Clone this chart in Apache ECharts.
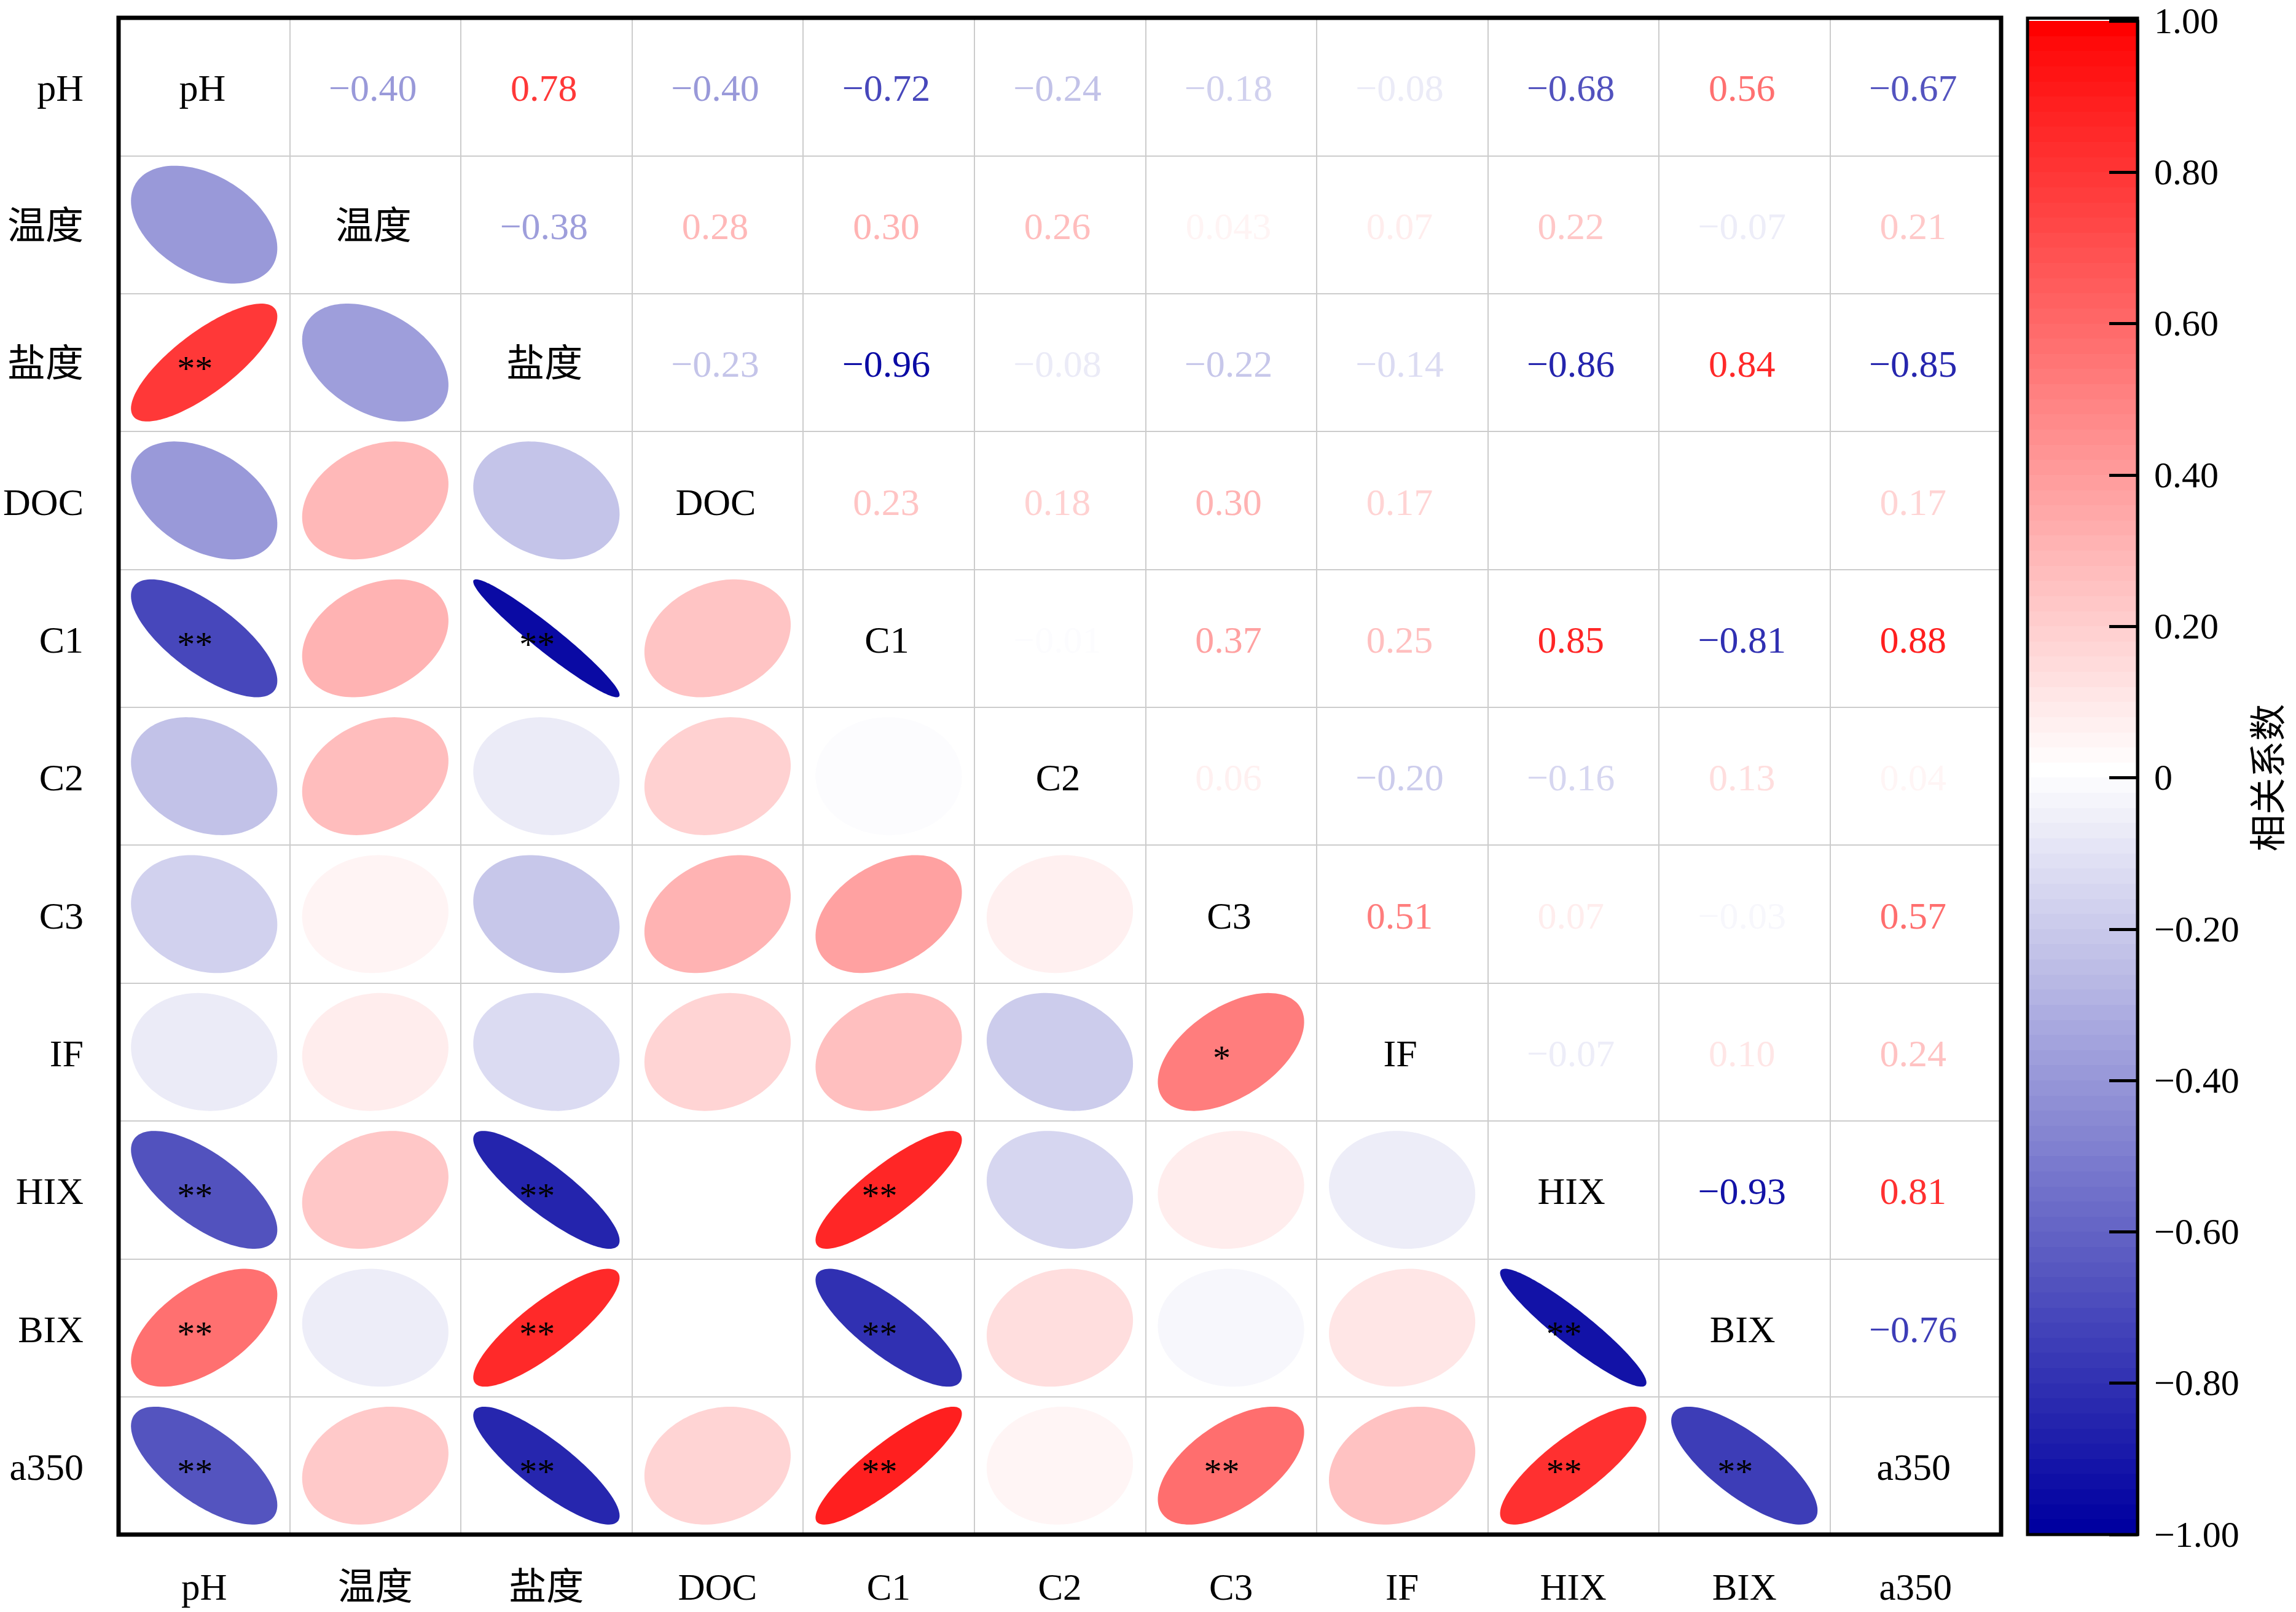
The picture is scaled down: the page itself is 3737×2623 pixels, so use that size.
<!DOCTYPE html>
<html>
<head>
<meta charset="utf-8">
<script src="https://cdn.jsdelivr.net/npm/echarts@6/dist/echarts.min.js"></script>
<style>
  html, body { margin: 0; padding: 0; background: #fff; }
  #corrplot { width: 3737px; height: 2623px; }
</style>
</head>
<body>
<div id="corrplot"></div>
<script>
"use strict";

// variables, top to bottom / left to right
var names = ['pH', '温度', '盐度', 'DOC', 'C1', 'C2', 'C3', 'IF', 'HIX', 'BIX', 'a350'];

// correlation matrix (symmetric, null = not shown)
var corr = [
    [1, -0.40, 0.78, -0.40, -0.72, -0.24, -0.18, -0.08, -0.68, 0.56, -0.67],
    [-0.40, 1, -0.38, 0.28, 0.30, 0.26, 0.043, 0.07, 0.22, -0.07, 0.21],
    [0.78, -0.38, 1, -0.23, -0.96, -0.08, -0.22, -0.14, -0.86, 0.84, -0.85],
    [-0.40, 0.28, -0.23, 1, 0.23, 0.18, 0.30, 0.17, null, null, 0.17],
    [-0.72, 0.30, -0.96, 0.23, 1, -0.01, 0.37, 0.25, 0.85, -0.81, 0.88],
    [-0.24, 0.26, -0.08, 0.18, -0.01, 1, 0.06, -0.20, -0.16, 0.13, 0.04],
    [-0.18, 0.043, -0.22, 0.30, 0.37, 0.06, 1, 0.51, 0.07, -0.03, 0.57],
    [-0.08, 0.07, -0.14, 0.17, 0.25, -0.20, 0.51, 1, -0.07, 0.10, 0.24],
    [-0.68, 0.22, -0.86, null, 0.85, -0.16, 0.07, -0.07, 1, -0.93, 0.81],
    [0.56, -0.07, 0.84, null, -0.81, 0.13, -0.03, 0.10, -0.93, 1, -0.76],
    [-0.67, 0.21, -0.85, 0.17, 0.88, 0.04, 0.57, 0.24, 0.81, -0.76, 1]
];

// significance marks in the lower triangle: [row, col, mark]
var signif = [
    [2, 0, '**'], [4, 0, '**'], [4, 2, '**'], [7, 6, '*'],
    [8, 0, '**'], [8, 2, '**'], [8, 4, '**'],
    [9, 0, '**'], [9, 2, '**'], [9, 4, '**'], [9, 8, '**'],
    [10, 0, '**'], [10, 2, '**'], [10, 4, '**'], [10, 6, '**'], [10, 8, '**'], [10, 9, '**']
];

// colour bar
var barMin = -1;
var barMax = 1;
var barStep = 0.2;
var barBands = 100;
var barTitle = '相关系数';

var FONT = '"Liberation Serif", "Noto Sans CJK SC", serif';

// plot area (frame) in pixels
var GRID = { left: 193, top: 29, width: 3064, height: 2468 };

function corrColor(r) {
    var t = Math.min(1, Math.abs(r)), c;
    c = Math.round(255 * (1 - t));
    if (r >= 0) {
        return 'rgb(255,' + c + ',' + c + ')';
    }
    return 'rgb(' + c + ',' + c + ',' + Math.round(255 - 95 * t) + ')';
}

function fmt(v) {
    var a = Math.abs(v);
    var s = (Math.round(a * 1000) % 10 !== 0) ? String(a) : a.toFixed(2);
    return (v < 0 ? '\u2212' : '') + s;
}

function markOf(i, j) {
    for (var k = 0; k < signif.length; k++) {
        if (signif[k][0] === i && signif[k][1] === j) return signif[k][2];
    }
    return '';
}

var lowerCells = [], upperCells = [], diagCells = [];
for (var i = 0; i < names.length; i++) {
    for (var j = 0; j < names.length; j++) {
        var v = corr[i][j];
        if (i === j) {
            diagCells.push([j, i]);
        } else if (v === null) {
            continue;
        } else if (i > j) {
            lowerCells.push([j, i, v]);
        } else {
            upperCells.push([j, i, v]);
        }
    }
}

// stepped colour stops for the bar, top (barMax) to bottom (barMin)
var barStops = [];
for (var b = 0; b < barBands; b++) {
    var lo = barMax - (b + 1) * (barMax - barMin) / barBands;
    var col = corrColor(Math.abs(lo) < 1e-9 ? 0 : lo);
    barStops.push({ offset: b / barBands, color: col });
    barStops.push({ offset: (b + 1) / barBands, color: col });
}
barStops[0].color = corrColor(barMax);
barStops[1].color = corrColor(barMax);

function getChart(id) {
    var dom = document.getElementById(id);
    return echarts.init(dom);
}

var chart = getChart('corrplot');

var option = {
    animation: false,
    backgroundColor: '#ffffff',
    textStyle: { fontFamily: FONT },
    grid: [{
        left: GRID.left, top: GRID.top, width: GRID.width, height: GRID.height,
        show: false
    }, {
        left: 3300, top: 29.5, width: 179, height: 2467.5,
        show: false
    }],
    graphic: [{
        type: 'rect',
        z: 100,
        shape: { x: GRID.left, y: GRID.top, width: GRID.width, height: GRID.height },
        style: { fill: 'none', stroke: '#000', lineWidth: 7 }
    }, {
        type: 'rect',
        z: 100,
        shape: { x: 3300, y: 29.5, width: 179, height: 2467.5 },
        style: { fill: 'none', stroke: '#000', lineWidth: 5 }
    }],
    xAxis: [{
        gridIndex: 0,
        type: 'category',
        data: names,
        position: 'bottom',
        axisLine: { show: false },
        axisTick: { show: false },
        axisLabel: { interval: 0, margin: 59, color: '#000', fontSize: 61, fontFamily: FONT },
        splitLine: { show: true, interval: 0, lineStyle: { color: '#cccccc', width: 2 } }
    }, {
        gridIndex: 1,
        type: 'value',
        min: 0, max: 1,
        show: false
    }],
    yAxis: [{
        gridIndex: 0,
        type: 'category',
        data: names,
        inverse: true,
        axisLine: { show: false },
        axisTick: { show: false },
        axisLabel: {
            interval: 0, margin: 57,
            formatter: function (val) { return '{n|' + val + '}'; },
            rich: {
                n: {
                    color: '#000', fontSize: 62, fontFamily: FONT,
                    lineHeight: 62, padding: [14, 0, 0, 0]
                }
            }
        },
        splitLine: { show: true, interval: 0, lineStyle: { color: '#cccccc', width: 2 } }
    }, {
        gridIndex: 1,
        type: 'value',
        min: barMin, max: barMax, interval: barStep,
        position: 'right',
        z: 10,
        name: barTitle,
        nameLocation: 'middle',
        nameGap: 188,
        nameTextStyle: { fontSize: 60, color: '#000', fontFamily: FONT },
        axisLine: { show: true, onZero: false, lineStyle: { color: '#000', width: 5 } },
        axisTick: { show: true, inside: true, length: 46, lineStyle: { color: '#000', width: 5 } },
        splitLine: { show: false },
        axisLabel: {
            margin: 27,
            formatter: function (val) {
                if (Math.abs(val) < 1e-9) return '{t|0}';
                return '{t|' + fmt(Math.round(val * 100) / 100) + '}';
            },
            rich: {
                t: {
                    color: '#000', fontSize: 60, fontFamily: FONT,
                    lineHeight: 60, padding: [8, 0, 0, 0]
                }
            }
        }
    }],
    series: [{
        name: 'ellipse',
        type: 'custom',
        xAxisIndex: 0, yAxisIndex: 0,
        data: lowerCells,
        renderItem: function (params, api) {
            var c = api.coord([api.value(0), api.value(1)]);
            var s = api.size([1, 1]);
            var r = api.value(2);
            var hw = s[0] * 0.855 / 2, hh = s[1] * 0.855 / 2;
            var d = Math.acos(Math.max(-1, Math.min(1, r)));
            var pts = [];
            for (var k = 0; k < 144; k++) {
                var t = k / 144 * 2 * Math.PI;
                pts.push([c[0] + hw * Math.cos(t + d / 2), c[1] - hh * Math.cos(t - d / 2)]);
            }
            var children = [{
                type: 'polygon',
                shape: { points: pts },
                style: { fill: corrColor(r) }
            }];
            var cell = lowerCells[params.dataIndex];
            var mark = markOf(cell[1], cell[0]);
            if (mark) {
                children.push({
                    type: 'text',
                    x: c[0] - 15, y: c[1] + 14,
                    style: {
                        text: mark, fill: '#000', fontSize: 58, fontFamily: FONT,
                        align: 'center', verticalAlign: 'middle'
                    }
                });
            }
            return { type: 'group', children: children };
        }
    }, {
        name: 'value',
        type: 'custom',
        xAxisIndex: 0, yAxisIndex: 0,
        data: upperCells,
        renderItem: function (params, api) {
            var c = api.coord([api.value(0), api.value(1)]);
            var r = api.value(2);
            return {
                type: 'text',
                x: c[0] - 4, y: c[1] + 7,
                style: {
                    text: fmt(r), fill: corrColor(r), fontSize: 62, fontFamily: FONT,
                    align: 'center', verticalAlign: 'middle'
                }
            };
        }
    }, {
        name: 'diag',
        type: 'custom',
        xAxisIndex: 0, yAxisIndex: 0,
        data: diagCells,
        renderItem: function (params, api) {
            var c = api.coord([api.value(0), api.value(1)]);
            return {
                type: 'text',
                x: c[0] - 3, y: c[1] + 7,
                style: {
                    text: names[diagCells[params.dataIndex][0]], fill: '#000', fontSize: 62, fontFamily: FONT,
                    align: 'center', verticalAlign: 'middle'
                }
            };
        }
    }, {
        name: 'colorbar',
        type: 'custom',
        xAxisIndex: 1, yAxisIndex: 1,
        data: [[0, barMax, 1, barMin]],
        z: -1,
        renderItem: function (params, api) {
            var p0 = api.coord([api.value(0), api.value(1)]);
            var p1 = api.coord([api.value(2), api.value(3)]);
            return {
                type: 'rect',
                shape: { x: p0[0], y: p0[1], width: p1[0] - p0[0], height: p1[1] - p0[1] },
                style: {
                    fill: new echarts.graphic.LinearGradient(0, 0, 0, 1, barStops)
                }
            };
        }
    }]
};

if (option && typeof option === "object") {
    chart.setOption(option, true);
}
</script>
</body>
</html>
